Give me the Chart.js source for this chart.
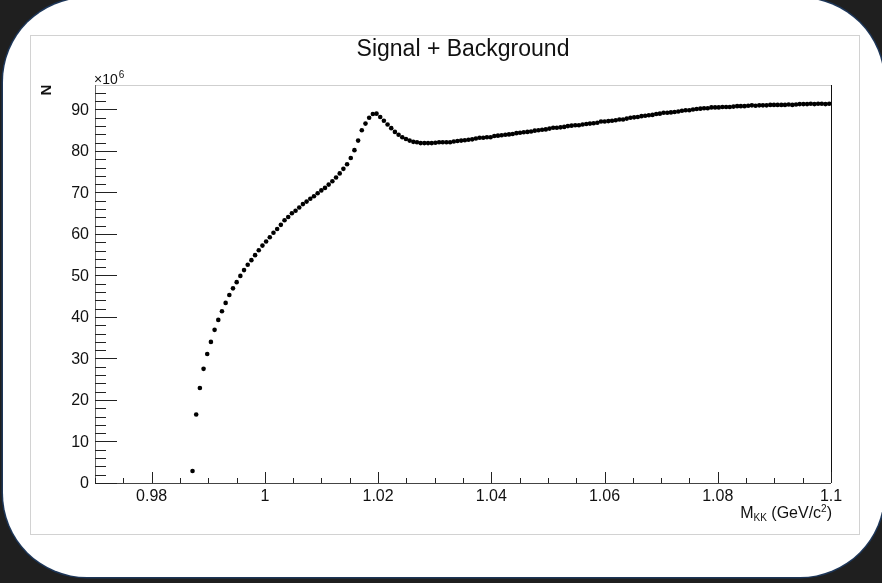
<!DOCTYPE html>
<html>
<head>
<meta charset="utf-8">
<title>Signal + Background</title>
<script src="https://cdn.jsdelivr.net/npm/chart.js@4"></script>
<style>
  html, body { margin: 0; padding: 0; background: #1f1f1f; }
  #wrap { position: relative; width: 882px; height: 583px; overflow: hidden; }
  #panel { position: absolute; left: 3px; top: -2px; width: 881px; height: 579px; background: #fff;
           border-radius: 84px; box-shadow: 0 0 0 1.5px #1d3658; }
  #pad { position: absolute; left: 30px; top: 35px; width: 828px; height: 498px; border: 1px solid #d2d2d2; }
  #myChart { position: absolute; left: 0; top: 0; }
</style>
</head>
<body>
<div id="wrap">
  <div id="panel"></div>
  <div id="pad"></div>
  <canvas id="myChart" width="882" height="583"></canvas>
</div>
<script>
// histogram binning (M_KK in GeV/c^2), counts in units of 10^6
var xMin = 0.97, xMax = 1.1, nBins = 200, firstBin = 26;
var yMin = 0, yMax = 95.9;

// bin contents starting at bin 26 (first non-empty bin, KK threshold)
var counts = [
  2.9, 16.5, 22.9, 27.5, 31.1, 34.0, 36.9, 39.3, 41.4, 43.4,
  45.3, 46.9, 48.4, 49.9, 51.3, 52.6, 53.7, 54.9, 56.1, 57.2,
  58.2, 59.2, 60.3, 61.2, 62.2, 63.3, 64.1, 65.0, 65.6, 66.4,
  67.2,
  67.8, 68.5, 69.1, 69.8, 70.5, 71.1, 71.9, 72.7, 73.6, 74.6,
  75.7, 76.8, 78.3, 80.2, 82.5, 85.0, 86.6, 88.0, 88.9, 89.0,
  88.2, 87.3, 86.4, 85.5, 84.6, 83.9, 83.3, 82.9, 82.5, 82.2,
  82.1, 81.9, 81.9,
  81.9, 81.9, 82.0, 82.1, 82.1, 82.1, 82.1, 82.3, 82.4, 82.5,
  82.6, 82.7, 82.8, 83.0, 83.2, 83.2, 83.3, 83.3, 83.6, 83.7,
  83.8, 83.9, 84.0, 84.1, 84.3, 84.4, 84.5, 84.6, 84.7, 84.9,
  85.0, 85.1, 85.2, 85.4, 85.6, 85.6, 85.7, 85.8, 86.0, 86.1,
  86.2, 86.2, 86.4, 86.5, 86.6, 86.7, 86.8, 87.1, 87.1, 87.2,
  87.3, 87.4, 87.6, 87.6, 87.8, 88.0, 88.1, 88.2, 88.4, 88.5,
  88.6, 88.7, 88.9, 89.0, 89.2, 89.2, 89.3, 89.4, 89.5, 89.7,
  89.8, 89.8, 90.0, 90.1, 90.2, 90.3, 90.3, 90.5, 90.5, 90.5,
  90.6, 90.6, 90.6, 90.7, 90.8, 90.8, 90.8, 90.9, 91.0, 90.9,
  91.0, 91.0, 91.0, 91.1, 91.1, 91.1, 91.1, 91.1, 91.2, 91.1,
  91.2, 91.3, 91.3, 91.3, 91.4, 91.3, 91.4, 91.4, 91.3, 91.4
];

var xTickValues = [0.98, 1, 1.02, 1.04, 1.06, 1.08, 1.1];
var xTickLabels = ["0.98", "1", "1.02", "1.04", "1.06", "1.08", "1.1"];
var yTickValues = [0, 10, 20, 30, 40, 50, 60, 70, 80, 90];
var yTickLabels = ["0", "10", "20", "30", "40", "50", "60", "70", "80", "90"];

var binWidth = (xMax - xMin) / nBins;
var points = counts.map(function (c, i) {
  return { x: xMin + (firstBin + i + 0.5) * binWidth, y: c };
});

var FONT = "'Liberation Sans', Arial, Helvetica, sans-serif";

// ROOT-like frame, ticks and labels drawn from the chart scales
var rootAxes = {
  id: "rootAxes",
  afterDraw: function (chart) {
    var ctx = chart.ctx;
    var xs = chart.scales.x, ys = chart.scales.y;
    var a = chart.chartArea;
    ctx.save();

    // frame
    ctx.lineWidth = 1;
    ctx.strokeStyle = "#cfcfcf";
    ctx.beginPath(); ctx.moveTo(a.left, a.top + 0.5); ctx.lineTo(a.right, a.top + 0.5); ctx.stroke();
    ctx.strokeStyle = "#111";
    ctx.beginPath(); ctx.moveTo(a.right + 0.5, a.top); ctx.lineTo(a.right + 0.5, a.bottom); ctx.stroke();
    ctx.strokeStyle = "#666";
    ctx.beginPath(); ctx.moveTo(a.left + 0.5, a.top); ctx.lineTo(a.left + 0.5, a.bottom); ctx.stroke();
    ctx.strokeStyle = "#444";
    ctx.beginPath(); ctx.moveTo(a.left, a.bottom + 0.5); ctx.lineTo(a.right, a.bottom + 0.5); ctx.stroke();

    // x ticks every 0.005, major every 0.02
    ctx.strokeStyle = "#222";
    for (var i = 0; i <= 26; i++) {
      var v = xMin + i * 0.005;
      var major = Math.abs(v * 50 - Math.round(v * 50)) < 1e-6;
      var px = Math.round(xs.getPixelForValue(v)) + 0.5;
      ctx.beginPath();
      ctx.moveTo(px, a.bottom);
      ctx.lineTo(px, a.bottom - (major ? 11 : 5));
      ctx.stroke();
    }
    // y ticks every 2, major every 10
    for (var j = 0; j <= 94; j += 2) {
      var py = Math.round(ys.getPixelForValue(j)) + 0.5;
      ctx.beginPath();
      ctx.moveTo(a.left, py);
      ctx.lineTo(a.left + (j % 10 === 0 ? 22 : 11), py);
      ctx.stroke();
    }

    // tick labels
    ctx.fillStyle = "#111";
    ctx.font = "16px " + FONT;
    ctx.textAlign = "center";
    ctx.textBaseline = "alphabetic";
    xTickValues.forEach(function (v, k) {
      ctx.fillText(xTickLabels[k], xs.getPixelForValue(v), a.bottom + 18);
    });
    ctx.textAlign = "right";
    ctx.textBaseline = "middle";
    yTickValues.forEach(function (v, k) {
      ctx.fillText(yTickLabels[k], a.left - 6, ys.getPixelForValue(v) + 1);
    });

    // exponent
    ctx.textAlign = "left";
    ctx.textBaseline = "alphabetic";
    ctx.font = "14px " + FONT;
    ctx.fillText("\u00d710", a.left - 1, a.top - 1);
    var w = ctx.measureText("\u00d710").width;
    ctx.font = "10px " + FONT;
    ctx.fillText("6", a.left + w, a.top - 7);

    // y title
    ctx.save();
    ctx.translate(47, 90);
    ctx.rotate(-Math.PI / 2);
    ctx.font = "bold 15px " + FONT;
    ctx.textAlign = "center";
    ctx.textBaseline = "middle";
    ctx.fillText("N", 0, 0);
    ctx.restore();

    // x title, right aligned on the axis end
    var parts = [
      { t: "M", size: 16, dy: 0 },
      { t: "KK", size: 10, dy: 3 },
      { t: " (GeV/c", size: 16, dy: 0 },
      { t: "2", size: 10, dy: -6 },
      { t: ")", size: 16, dy: 0 }
    ];
    var total = 0;
    parts.forEach(function (p) { ctx.font = p.size + "px " + FONT; p.w = ctx.measureText(p.t).width; total += p.w; });
    var tx = a.right + 1 - total, base = a.bottom + 35;
    parts.forEach(function (p) {
      ctx.font = p.size + "px " + FONT;
      ctx.fillText(p.t, tx, base + p.dy);
      tx += p.w;
    });

    // title
    ctx.font = "23px " + FONT;
    ctx.textAlign = "center";
    ctx.fillText("Signal + Background", 463, 56);

    ctx.restore();
  }
};

var ctx = document.getElementById("myChart").getContext("2d");
var myChart = new Chart(ctx, {
  type: "scatter",
  data: {
    datasets: [
      {
        label: "Signal + Background",
        data: points,
        backgroundColor: "#000",
        borderWidth: 0,
        pointRadius: 2.3,
        showLine: false,
      },
    ],
  },
  options: {
    responsive: false,
    animation: false,
    layout: { padding: { left: 95, top: 85, right: 51, bottom: 100 } },
    plugins: { legend: { display: false }, tooltip: { enabled: false }, title: { display: false } },
    scales: {
      x: { type: "linear", display: false, min: xMin, max: xMax },
      y: { type: "linear", display: false, min: yMin, max: yMax },
    },
  },
  plugins: [rootAxes],
});
</script>
</body>
</html>
